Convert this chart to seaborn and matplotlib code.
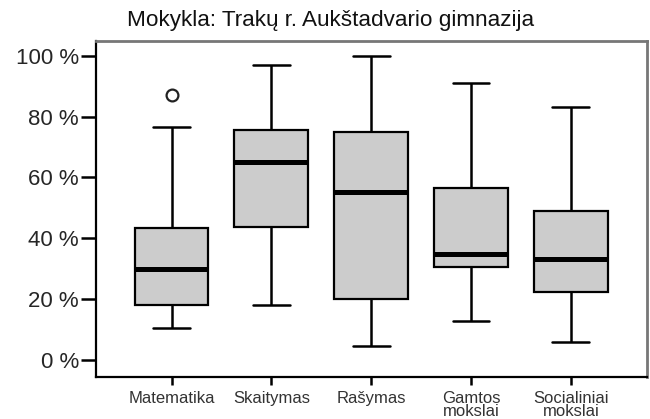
import matplotlib
matplotlib.use("Agg")
import matplotlib.pyplot as plt
import seaborn as sns
import pandas as pd

# Subject names shown on the x axis
subjects = ["Matematika", "Skaitymas", "Rašymas", "Gamtos\nmokslai", "Socialiniai\nmokslai"]

# Score samples (percent) for each subject
matematika = [10.5, 18.0, 18.0, 30.0, 30.0, 43.5, 43.5, 76.5, 87.0]
skaitymas = [18.0, 43.7, 43.7, 65.2, 65.2, 75.6, 75.6, 96.8, 96.8]
rasymas = [4.6, 20.0, 20.0, 55.2, 55.2, 75.0, 75.0, 100.0, 100.0]
gamtos = [12.7, 30.5, 30.5, 34.7, 34.7, 56.4, 56.4, 91.0, 91.0]
socialiniai = [6.0, 22.5, 22.5, 33.3, 33.3, 49.1, 49.1, 83.3, 83.3]

y_ticks = [0, 20, 40, 60, 80, 100]
y_tick_labels = ["0 %", "20 %", "40 %", "60 %", "80 %", "100 %"]
title = "Mokykla: Trakų r. Aukštadvario gimnazija"

samples = [matematika, skaitymas, rasymas, gamtos, socialiniai]
df = pd.DataFrame(
    [(name, v) for name, vals in zip(subjects, samples) for v in vals],
    columns=["dalykas", "rezultatas"],
)

sns.set_theme(style="white")
plt.rcParams["font.family"] = ["Liberation Sans", "DejaVu Sans"]

fig = plt.figure(figsize=(6.5, 4.19), dpi=100)
ax = fig.add_axes([0.1472, 0.0995, 0.8477, 0.8038])

sns.boxplot(
    data=df, x="dalykas", y="rezultatas", order=subjects, ax=ax,
    color="#cccccc", saturation=1, width=0.74, whis=1.5,
    linecolor="black", linewidth=1.6,
    medianprops=dict(color="black", linewidth=3.6, solid_capstyle="butt"),
    whiskerprops=dict(color="black", linewidth=1.8),
    capprops=dict(color="black", linewidth=1.8),
    flierprops=dict(marker="o", markerfacecolor="white", markeredgecolor="#222222",
                    markersize=8.5, markeredgewidth=1.6),
)

ax.set_xlim(-0.76, 4.76)
ax.set_ylim(-5.7, 105.0)
ax.set_yticks(y_ticks)
ax.set_yticklabels(y_tick_labels, fontsize=16)
ax.set_xticks(range(len(subjects)))
ax.set_xticklabels(subjects, fontsize=12, linespacing=0.85, color="#333333")
ax.set_xlabel("")
ax.set_ylabel("")

ax.tick_params(axis="y", direction="out", length=11, width=1.8, color="black", pad=1, left=True)
ax.tick_params(axis="x", direction="out", length=6, width=1.8, color="black", pad=4, bottom=True)

for side in ["left", "bottom"]:
    ax.spines[side].set_color("black")
    ax.spines[side].set_linewidth(1.6)
for side in ["top", "right"]:
    ax.spines[side].set_color("#777777")
    ax.spines[side].set_linewidth(2.0)

fig.text(0.508, 0.950, title, ha="center", va="center", fontsize=16.2, color="#111111")

fig.savefig("out.png", dpi=100)
